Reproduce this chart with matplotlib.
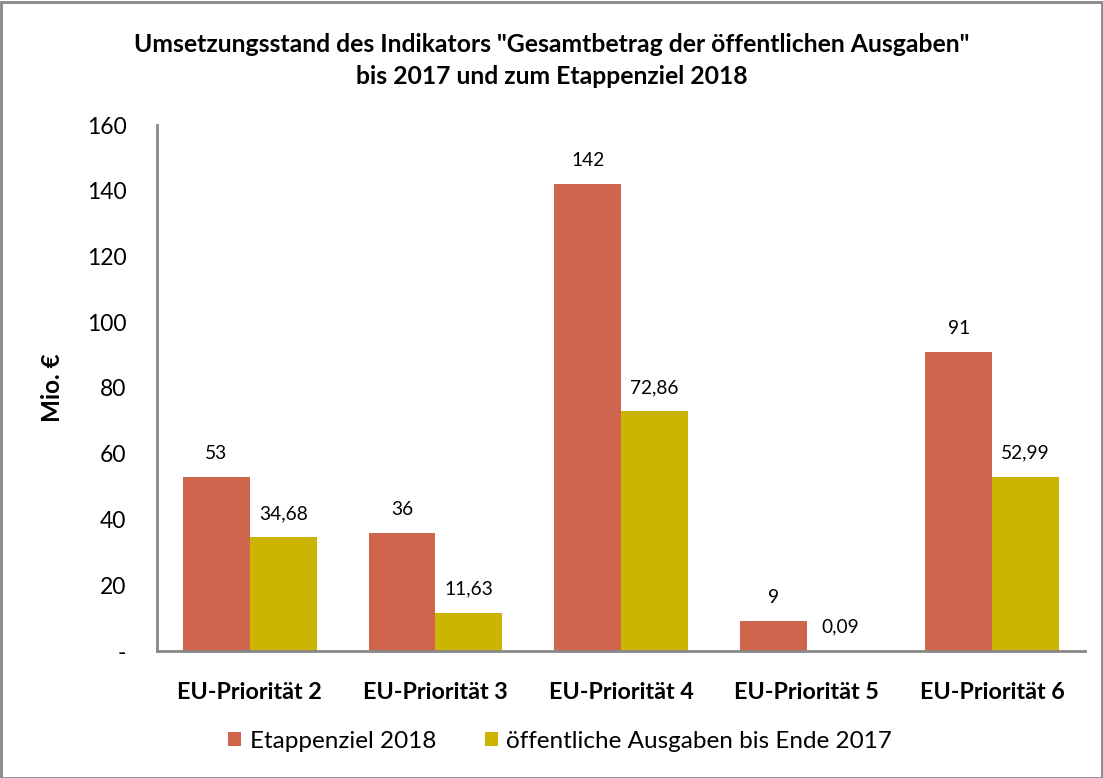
import matplotlib
matplotlib.use("Agg")
import matplotlib.pyplot as plt
import numpy as np
from matplotlib.patches import Rectangle

categories = ["EU-Priorität 2", "EU-Priorität 3", "EU-Priorität 4", "EU-Priorität 5", "EU-Priorität 6"]
etappenziel = [53, 36, 142, 9, 91]
ausgaben = [34.68, 11.63, 72.86, 0.09, 52.99]
labels_etappe = ["53", "36", "142", "9", "91"]
labels_ausg = ["34,68", "11,63", "72,86", "0,09", "52,99"]
yticks = [0, 20, 40, 60, 80, 100, 120, 140, 160]
yticklabels = ["-", "20", "40", "60", "80", "100", "120", "140", "160"]

plt.rcParams['font.family'] = ['Lato', 'DejaVu Sans']

fig = plt.figure(figsize=(11.03, 7.78), dpi=100)
ax = fig.add_axes([157/1103, 1-651/778, (1085-157)/1103, (651-125)/778])

c1 = "#D0654D"
c2 = "#CDB400"
x = np.arange(len(categories))
w = 0.36
b1 = ax.bar(x - w/2, etappenziel, w, color=c1, label="Etappenziel 2018")
b2 = ax.bar(x + w/2, ausgaben, w, color=c2, label="öffentliche Ausgaben bis Ende 2017")
for rect, lab in zip(b1, labels_etappe):
    ax.annotate(lab, (rect.get_x() + rect.get_width()/2, rect.get_height()), xytext=(0, 13),
                textcoords="offset points", ha="center", va="baseline", fontsize=13.8)
for rect, lab in zip(b2, labels_ausg):
    ax.annotate(lab, (rect.get_x() + rect.get_width()/2, rect.get_height()), xytext=(0, 13),
                textcoords="offset points", ha="center", va="baseline", fontsize=13.8)

ax.set_xlim(-0.5, len(categories) - 0.5)
ax.set_ylim(0, 160)
ax.set_yticks(yticks)
ax.set_yticklabels(yticklabels, fontsize=16.5)
ax.set_xticks(x)
ax.set_xticklabels(categories, fontsize=16.8, fontweight="bold")
ax.tick_params(axis="y", length=0, pad=22)
ax.tick_params(axis="x", length=0, pad=22)
for s in ["top", "right"]:
    ax.spines[s].set_visible(False)
for s in ["left", "bottom"]:
    ax.spines[s].set_color("#888888")
    ax.spines[s].set_linewidth(2)
ax.set_ylabel("Mio. €", fontsize=17.5, fontweight="bold", labelpad=16)

fig.text(0.5, 1-45/778, 'Umsetzungsstand des Indikators "Gesamtbetrag der öffentlichen Ausgaben"',
         ha="center", va="center", fontsize=17.8, fontweight="bold")
fig.text(0.5, 1-76/778, 'bis 2017 und zum Etappenziel 2018',
         ha="center", va="center", fontsize=17.8, fontweight="bold")

leg = fig.legend(loc="center", bbox_to_anchor=(560/1103, 1-741/778), ncol=2, frameon=False,
                 fontsize=17.5, handlelength=0.55, handleheight=0.55, handletextpad=0.35, columnspacing=2.0)

fig.patches.append(Rectangle((0.5/1103, 0.5/778), 1-2/1103, 1-2/778, transform=fig.transFigure,
                             fill=False, edgecolor="#888888", linewidth=2))

fig.savefig("out.png", dpi=100)
